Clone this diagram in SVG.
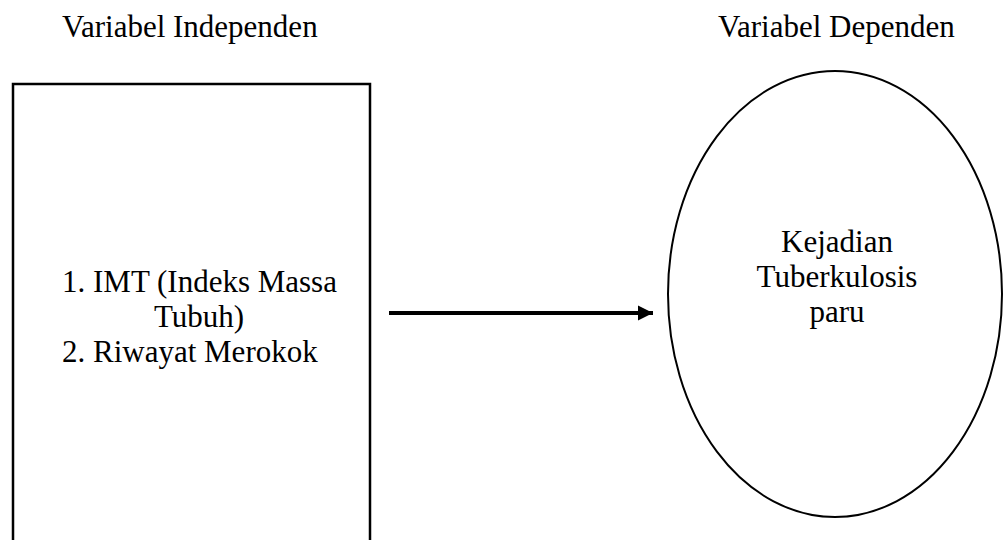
<svg xmlns="http://www.w3.org/2000/svg" width="1003" height="540" viewBox="0 0 1003 540">
<style>
text{font-family:"Liberation Serif","Times New Roman",serif;font-size:31px;fill:#000}
.shape{fill:#fff;stroke:#000}
</style>
<defs>
<marker id="ah" markerUnits="userSpaceOnUse" markerWidth="16" markerHeight="16" refX="15" refY="8" orient="auto">
<path d="M0,0.5 L15,8 L0,15.5 Z" fill="#000"/>
</marker>
</defs>
<rect width="1003" height="540" fill="#fff"/>
<g id="label-independen"><text x="62" y="37">Variabel Independen</text></g>
<g id="label-dependen"><text x="718" y="37">Variabel Dependen</text></g>
<g id="node-independen">
<rect class="shape" x="13" y="84" width="357" height="480" stroke-width="2.5"/>
<text x="62" y="292">1. IMT (Indeks Massa</text>
<text x="199" y="327" text-anchor="middle">Tubuh)</text>
<text x="62" y="362">2. Riwayat Merokok</text>
</g>
<g id="node-dependen">
<ellipse class="shape" cx="835" cy="294" rx="167" ry="223" stroke-width="2"/>
<text x="837" y="252" text-anchor="middle">Kejadian</text>
<text x="837" y="287" text-anchor="middle">Tuberkulosis</text>
<text x="837" y="322" text-anchor="middle">paru</text>
</g>
<g id="connectors">
<line x1="389" y1="313" x2="653" y2="313" stroke="#000" stroke-width="4" marker-end="url(#ah)"/>
</g>
</svg>
